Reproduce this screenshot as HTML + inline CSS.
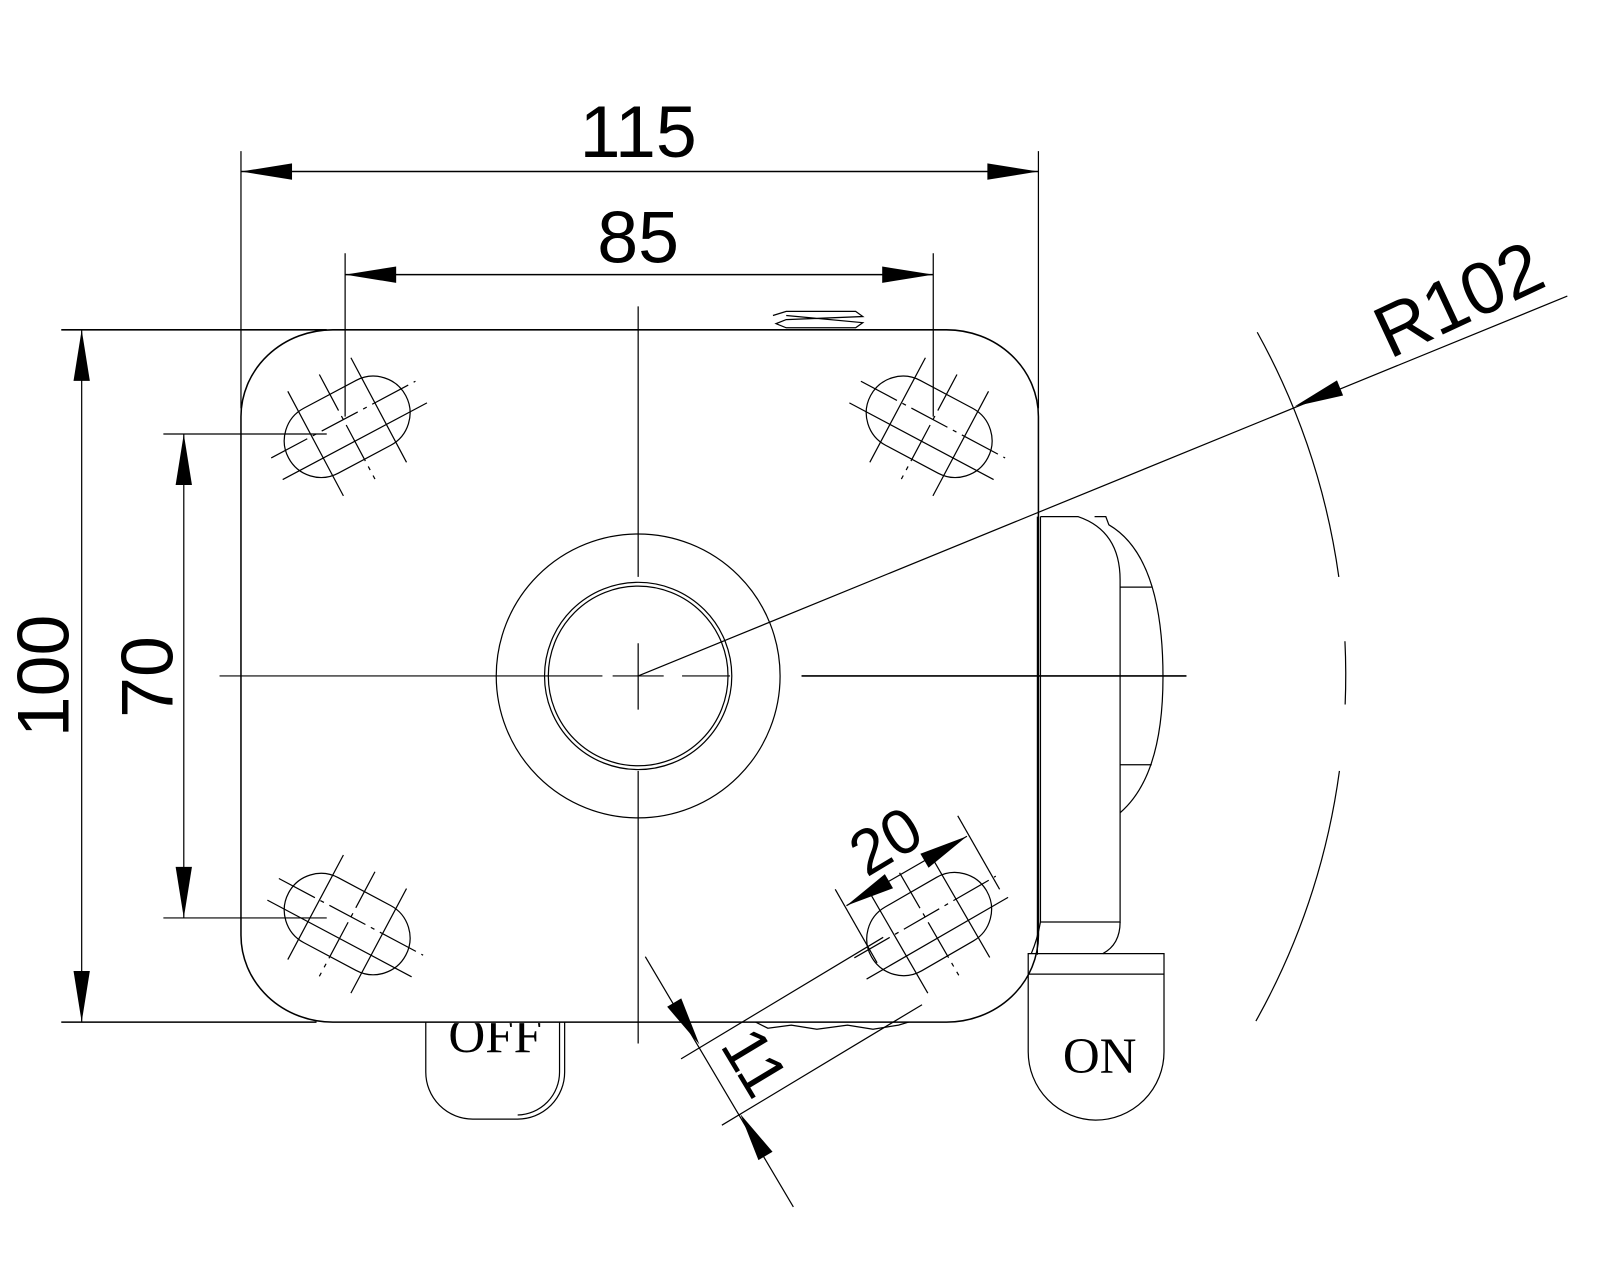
<!DOCTYPE html>
<html><head><meta charset="utf-8"><style>
html,body{margin:0;padding:0;background:#fff;}
svg{display:block;}
text{font-family:"Liberation Sans",sans-serif;fill:#000;}
.s{font-family:"Liberation Serif",serif;}
</style></head><body>
<svg width="1600" height="1280" viewBox="0 0 1567 1253.6" xmlns="http://www.w3.org/2000/svg">
<defs><clipPath id="offclip"><rect x="400" y="1002" width="170" height="120"/></clipPath></defs>
<g fill="none" stroke="#000" stroke-width="1.2">
<line x1="236" y1="148" x2="236" y2="400"/>
<line x1="1017" y1="148" x2="1017" y2="400"/>
<line x1="338" y1="248" x2="338" y2="408"/>
<line x1="914" y1="248" x2="914" y2="408"/>
<line x1="236" y1="168" x2="1017" y2="168" stroke-width="1.5"/>
<line x1="338" y1="269" x2="914" y2="269" stroke-width="1.5"/>
<line x1="60" y1="323" x2="320" y2="323" stroke-width="1.5"/>
<line x1="60" y1="1001" x2="310" y2="1001" stroke-width="1.5"/>
<line x1="80" y1="323" x2="80" y2="1001"/>
<line x1="160" y1="425" x2="320" y2="425"/>
<line x1="160" y1="899" x2="320" y2="899"/>
<line x1="180" y1="425" x2="180" y2="899"/>
<path d="M326,323 H927 A90,85 0 0 1 1017,408 V916 A90,85 0 0 1 927,1001 H326 A90,85 0 0 1 236,916 V408 A90,85 0 0 1 326,323 Z" stroke-width="1.5"/>
<path d="M757,309 L770,305 L838,305 L845,310 L770,313 L760,317 L770,321 L838,321 L845,316 L770,309"/>
<path d="M740,1001 L752,1007 L775,1004 L800,1008 L830,1004 L855,1008 L880,1004 L890,1001"/>
<line x1="625" y1="300" x2="625" y2="565"/>
<line x1="625" y1="630" x2="625" y2="695"/>
<line x1="625" y1="755" x2="625" y2="1022"/>
<line x1="215" y1="662" x2="590" y2="662"/>
<line x1="600" y1="662" x2="650" y2="662"/>
<line x1="668" y1="662" x2="715" y2="662"/>
<line x1="785" y1="662" x2="1162" y2="662" stroke-width="1.5"/>
<circle cx="625" cy="662" r="139"/>
<circle cx="625" cy="662" r="91.7"/>
<circle cx="625" cy="662" r="88"/>
<line x1="625" y1="662" x2="1535" y2="290"/>
<path d="M1231.3,325.4 A693,693 0 0 1 1311.2,565"/>
<path d="M1317.2,628 A693,693 0 0 1 1317.4,690"/>
<path d="M1311.8,755 A693,693 0 0 1 1230,1000"/>
<g transform="translate(340,418) rotate(-28)">
<rect x="-65" y="-36" width="130" height="72" rx="36"/>
<line x1="-80" y1="-8" x2="80" y2="-8" stroke-dasharray="40 6 4 6"/><line x1="-80" y1="16" x2="80" y2="16"/>
<line x1="-35" y1="-58" x2="-35" y2="58"/><line x1="0" y1="-58" x2="0" y2="58" stroke-dasharray="40 6 4 6"/><line x1="35" y1="-58" x2="35" y2="58"/>
</g>
<g transform="translate(910,418) rotate(28)">
<rect x="-65" y="-36" width="130" height="72" rx="36"/>
<line x1="-80" y1="-8" x2="80" y2="-8" stroke-dasharray="40 6 4 6"/><line x1="-80" y1="16" x2="80" y2="16"/>
<line x1="-35" y1="-58" x2="-35" y2="58"/><line x1="0" y1="-58" x2="0" y2="58" stroke-dasharray="40 6 4 6"/><line x1="35" y1="-58" x2="35" y2="58"/>
</g>
<g transform="translate(340,905) rotate(28)">
<rect x="-65" y="-36" width="130" height="72" rx="36"/>
<line x1="-80" y1="-8" x2="80" y2="-8" stroke-dasharray="40 6 4 6"/><line x1="-80" y1="16" x2="80" y2="16"/>
<line x1="-35" y1="-58" x2="-35" y2="58"/><line x1="0" y1="-58" x2="0" y2="58" stroke-dasharray="40 6 4 6"/><line x1="35" y1="-58" x2="35" y2="58"/>
</g>
<g transform="translate(910,905) rotate(-30)">
<rect x="-65" y="-36" width="130" height="72" rx="36"/>
<line x1="-80" y1="-8" x2="80" y2="-8" stroke-dasharray="40 6 4 6"/><line x1="-80" y1="16" x2="80" y2="16"/>
<line x1="-35" y1="-58" x2="-35" y2="58"/><line x1="0" y1="-58" x2="0" y2="58" stroke-dasharray="40 6 4 6"/><line x1="35" y1="-58" x2="35" y2="58"/>
</g>
<line x1="818" y1="871" x2="859" y2="943"/>
<line x1="938" y1="799" x2="979" y2="871"/>
<line x1="829" y1="887" x2="947" y2="819"/>
<line x1="667" y1="1037" x2="865" y2="918"/>
<line x1="707" y1="1102" x2="903" y2="984"/>
<line x1="632" y1="937" x2="777" y2="1182"/>
<line x1="1016" y1="506" x2="1016" y2="935"/>
<line x1="1019" y1="506" x2="1019" y2="903"/>
<path d="M1019,506 H1056 Q1097,520 1097,568 V903 H1019"/>
<path d="M1072,506 H1083 L1086,514 Q1139,545 1139,663 Q1139,760 1097,796"/>
<line x1="1097" y1="575" x2="1128" y2="575"/>
<line x1="1097" y1="749" x2="1128" y2="749"/>
<path d="M1097,903 Q1097,925 1080,934"/>
<path d="M1019,903 Q1016,920 1010,934"/>
<path d="M1007,934 H1140 V1030 A67,67 0 0 1 1073,1097 A67,67 0 0 1 1007,1030 Z"/>
<line x1="1007" y1="954" x2="1140" y2="954"/>
<path d="M417,1001 V1050 A46,46 0 0 0 463,1096 H507 A46,46 0 0 0 553,1050 V1001"/>
<path d="M548,1001 V1050 A42,42 0 0 1 507,1092"/>
</g>
<g fill="#000">
<polygon points="236,168 286,160 286,176"/>
<polygon points="1017,168 967,160 967,176"/>
<polygon points="338,269 388,261 388,277"/>
<polygon points="914,269 864,261 864,277"/>
<polygon points="80,323 72,373 88,373"/>
<polygon points="80,1001 72,951 88,951"/>
<polygon points="180,425 172,475 188,475"/>
<polygon points="180,899 172,849 188,849"/>
<polygon points="1268,398 1315.4,387.3 1309.4,372.5"/>
<polygon points="685,1023 667.2,977.8 653.4,986"/>
<polygon points="725,1091 756.6,1128 742.8,1136.2"/>
<polygon points="829,887 874.6,869.9 866.6,856.1"/>
<polygon points="947,819 909.4,849.9 901.4,836.1"/>
</g>
<text x="625" y="154" font-size="72" text-anchor="middle">115</text>
<text x="625" y="257" font-size="72" text-anchor="middle">85</text>
<text transform="translate(41,662) rotate(-90)" font-size="72" text-anchor="middle" dy="26">100</text>
<text transform="translate(143,663) rotate(-90)" font-size="72" text-anchor="middle" dy="26">70</text>
<text transform="translate(1428,292) rotate(-25)" font-size="72" text-anchor="middle" dy="26">R102</text>
<text transform="translate(867,823) rotate(-31)" font-size="62" text-anchor="middle" dy="22">20</text>
<text transform="translate(740,1040) rotate(59)" font-size="62" text-anchor="middle" dy="22">11</text>
<text class="s" x="1077" y="1051" font-size="50" text-anchor="middle">ON</text>
<text class="s" x="485" y="1031" font-size="50" text-anchor="middle" clip-path="url(#offclip)">OFF</text>
</svg>
</body></html>
